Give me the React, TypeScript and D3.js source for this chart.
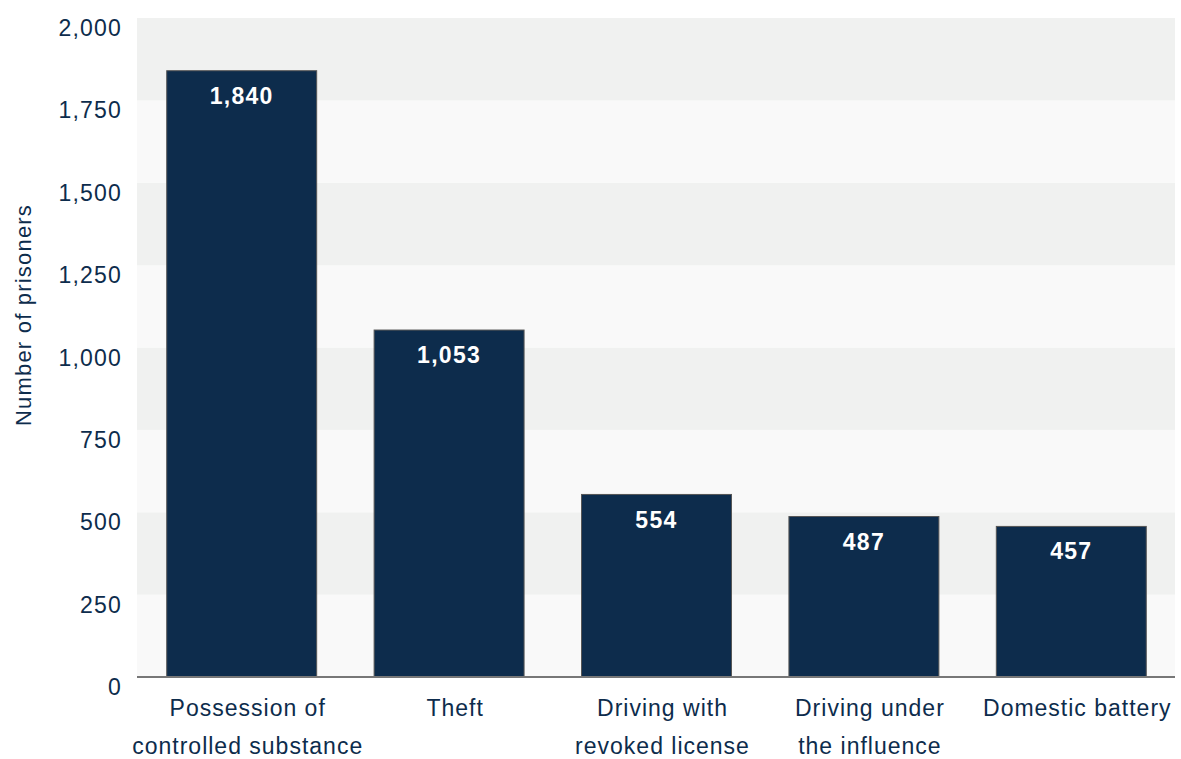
import React, { useEffect, useRef } from "react";
import * as d3 from "d3";

const categories = [
  ["Possession of", "controlled substance"],
  ["Theft"],
  ["Driving with", "revoked license"],
  ["Driving under", "the influence"],
  ["Domestic battery"],
];
const prisoners = [1840, 1053, 554, 487, 457];
const yTicks = [0, 250, 500, 750, 1000, 1250, 1500, 1750, 2000];

const App: React.FC = () => {
  const ref = useRef<SVGSVGElement>(null);

  useEffect(() => {
    const width = 1181;
    const height = 759;
    const margin = { top: 18, right: 6, bottom: 82, left: 138 };
    const font = "'Liberation Sans', Arial, sans-serif";
    const textColor = "#0d2c4c";

    const svg = d3.select(ref.current);
    svg.selectAll("*").remove();

    const x = d3
      .scaleBand<number>()
      .domain(d3.range(prisoners.length))
      .range([margin.left, width - margin.right])
      .paddingInner(0.277)
      .paddingOuter(0.1385);

    const y = d3
      .scaleLinear()
      .domain([0, 2000])
      .range([height - margin.bottom, margin.top]);

    // alternating background bands
    svg
      .append("g")
      .selectAll("rect")
      .data(yTicks.slice(0, -1))
      .join("rect")
      .attr("x", 137)
      .attr("width", width - margin.right - 137)
      .attr("y", (d) => y(d + 250))
      .attr("height", (d) => y(d) - y(d + 250))
      .attr("fill", (d, i) => (i % 2 === 0 ? "#f9f9f9" : "#f0f1f0"));

    // y tick labels
    svg
      .append("g")
      .selectAll("text")
      .data(yTicks)
      .join("text")
      .attr("x", 122)
      .attr("y", (d) => y(d) + 10)
      .attr("dy", "0.35em")
      .attr("text-anchor", "end")
      .attr("font-family", font)
      .attr("font-size", 23)
      .attr("letter-spacing", 1.2)
      .attr("fill", textColor)
      .text((d) => d3.format(",")(d));

    // y axis title
    svg
      .append("text")
      .attr("transform", `translate(31,315) rotate(-90)`)
      .attr("text-anchor", "middle")
      .attr("font-family", font)
      .attr("font-size", 22)
      .attr("letter-spacing", 1.2)
      .attr("fill", textColor)
      .text("Number of prisoners");

    // bars
    svg
      .append("g")
      .selectAll("rect")
      .data(prisoners)
      .join("rect")
      .attr("x", (d, i) => x(i)!)
      .attr("width", x.bandwidth())
      .attr("y", (d) => y(d))
      .attr("height", (d) => y(0) - y(d))
      .attr("fill", "#0d2c4c")
      .attr("stroke", "#555")
      .attr("stroke-width", 1);

    // value labels
    svg
      .append("g")
      .selectAll("text")
      .data(prisoners)
      .join("text")
      .attr("x", (d, i) => x(i)! + x.bandwidth() / 2)
      .attr("y", (d) => y(d) + 25)
      .attr("dy", "0.35em")
      .attr("text-anchor", "middle")
      .attr("font-family", font)
      .attr("font-weight", "bold")
      .attr("font-size", 23)
      .attr("letter-spacing", 1.3)
      .attr("fill", "#ffffff")
      .text((d) => d3.format(",")(d));

    // x axis line
    svg
      .append("line")
      .attr("x1", 137)
      .attr("x2", width - margin.right)
      .attr("y1", y(0))
      .attr("y2", y(0))
      .attr("stroke", "#777")
      .attr("stroke-width", 2);

    // category labels
    const cat = svg
      .append("g")
      .selectAll("text")
      .data(categories)
      .join("text")
      .attr("x", (d, i) => x(i)! + x.bandwidth() / 2 + 6)
      .attr("y", 708)
      .attr("text-anchor", "middle")
      .attr("font-family", font)
      .attr("font-size", 23)
      .attr("letter-spacing", 1)
      .attr("fill", textColor);

    cat
      .selectAll("tspan")
      .data((d) => d)
      .join("tspan")
      .attr("x", function () {
        return (this.parentNode as SVGTextElement).getAttribute("x");
      })
      .attr("y", (d, i) => 708 + i * 38)
      .attr("dy", "0.35em")
      .text((d) => d);
  }, []);

  return (
    <svg
      ref={ref}
      width={1181}
      height={759}
      style={{ position: "absolute", left: 0, top: 0, overflow: "visible" }}
    />
  );
};

export default App;
